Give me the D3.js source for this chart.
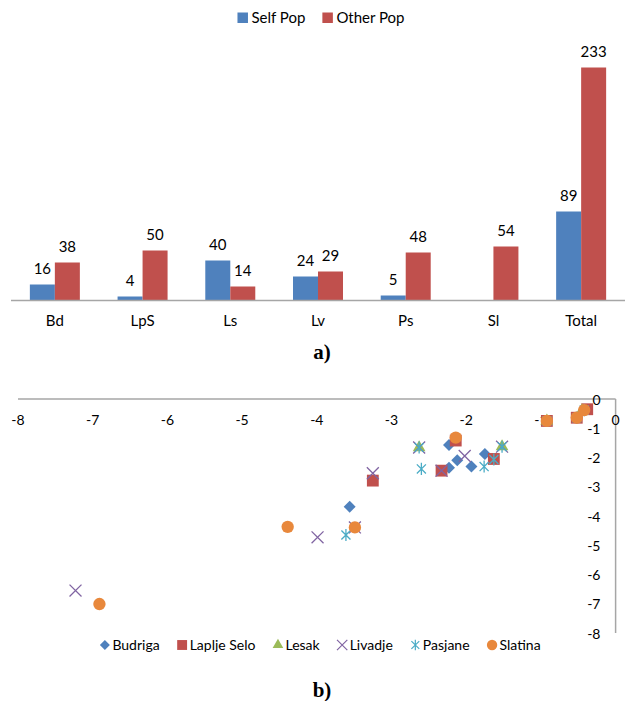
<!DOCTYPE html>
<html>
<head>
<meta charset="utf-8">
<script src="https://d3js.org/d3.v7.min.js"></script>
<style>
  body { margin: 0; background: #fff; }
  svg { display: block; }
  text { font-family: Lato, "Open Sans", sans-serif; fill: #000; }
</style>
</head>
<body>
<div id="chart"></div>
<script>
// ---- data: chart a) ----
var categories = ["Bd", "LpS", "Ls", "Lv", "Ps", "Sl", "Total"];
var seriesNames = ["Self Pop", "Other Pop"];
var selfPop = [16, 4, 40, 24, 5, null, 89];
var otherPop = [38, 50, 14, 29, 48, 54, 233];
var barColors = ["#4F81BD", "#C0504D"];

// ---- data: chart b) ----
var villages = ["Budriga", "Laplje Selo", "Lesak", "Livadje", "Pasjane", "Slatina"];
var budriga = [[-3.56, -3.68], [-2.23, -2.35], [-2.12, -2.09], [-2.23, -1.57], [-1.93, -2.31], [-1.75, -1.88], [-0.92, -0.75], [-0.52, -0.64], [-0.42, -0.38]];
var lapljeSelo = [[-3.25, -2.79], [-2.33, -2.45], [-2.14, -1.42], [-1.63, -2.05], [-0.92, -0.75], [-0.52, -0.64], [-0.38, -0.35]];
var lesak = [[-2.63, -1.66], [-1.52, -1.63], [-0.92, -0.75], [-0.45, -0.40]];
var livadje = [[-7.23, -6.55], [-3.99, -4.73], [-3.49, -4.39], [-3.25, -2.54], [-2.33, -2.45], [-2.02, -1.95], [-2.63, -1.66], [-1.52, -1.63]];
var pasjane = [[-3.61, -4.65], [-2.63, -1.66], [-2.60, -2.39], [-1.76, -2.31], [-1.63, -2.07], [-1.52, -1.63], [-0.92, -0.75], [-0.52, -0.64], [-0.42, -0.38]];
var slatina = [[-6.91, -7.01], [-4.39, -4.37], [-3.49, -4.39], [-2.14, -1.32], [-0.92, -0.75], [-0.52, -0.64], [-0.42, -0.38]];
var xTicks = [-8, -7, -6, -5, -4, -3, -2, -1, 0];
var yTicks = [0, -1, -2, -3, -4, -5, -6, -7, -8];
var pointColors = ["#4F81BD", "#C0504D", "#9BBB59", "#8064A2", "#4BACC6", "#E8883C"];

var W = 626, H = 701;
var svg = d3.select("#chart").append("svg")
    .attr("width", W)
    .attr("height", H);

// ================= chart a) =================
var x0 = d3.scaleBand()
    .domain(categories)
    .range([11, 625])
    .paddingInner(0.43)
    .paddingOuter(0.215);

var x1 = d3.scaleBand()
    .domain(seriesNames)
    .range([0, x0.bandwidth()]);

var yBar = d3.scaleLinear()
    .domain([0, 233])
    .range([300.5, 67.5]);

var barData = [];
categories.forEach(function(c, i) {
    barData.push({cat: c, s: 0, v: selfPop[i]});
    barData.push({cat: c, s: 1, v: otherPop[i]});
});
barData = barData.filter(function(d) { return d.v != null; });

var gA = svg.append("g");

gA.selectAll("rect.bar")
    .data(barData)
    .enter().append("rect")
    .attr("class", "bar")
    .attr("x", function(d) { return x0(d.cat) + x1(seriesNames[d.s]); })
    .attr("y", function(d) { return yBar(d.v); })
    .attr("width", x1.bandwidth())
    .attr("height", function(d) { return yBar(0) - yBar(d.v); })
    .attr("fill", function(d) { return barColors[d.s]; });

gA.selectAll("text.val")
    .data(barData)
    .enter().append("text")
    .attr("class", "val")
    .attr("x", function(d) { return x0(d.cat) + x1(seriesNames[d.s]) + x1.bandwidth() / 2; })
    .attr("y", function(d) { return yBar(d.v) - 10.5; })
    .attr("text-anchor", "middle")
    .style("font-size", "15px")
    .text(function(d) { return d.v; });

// baseline axis
var xAxisA = d3.axisBottom(x0).tickSize(0).tickPadding(15);
var axA = gA.append("g")
    .attr("transform", "translate(0," + yBar(0) + ")")
    .call(xAxisA);
axA.select(".domain").attr("stroke", "#A6A6A6").attr("stroke-width", 1.5)
    .attr("d", "M11,0H625");
axA.selectAll("text").style("font-size", "15px").attr("fill", "#000")
    .style("font-family", "Lato, 'Open Sans', sans-serif");

// top legend
var legA = svg.append("g");
var lx = 0;
seriesNames.forEach(function(n, i) {
    var item = legA.append("g").attr("transform", "translate(" + lx + ",0)");
    item.append("rect").attr("x", 0).attr("y", 12.5).attr("width", 10.5).attr("height", 10.5)
        .attr("fill", barColors[i]);
    var t = item.append("text").attr("x", 14).attr("y", 22.5)
        .style("font-size", "15px").text(n);
    lx += 14 + t.node().getComputedTextLength() + 17;
});
legA.attr("transform", "translate(" + (321 - (lx - 17) / 2) + ",0)");

svg.append("text")
    .attr("x", 322).attr("y", 359)
    .attr("text-anchor", "middle")
    .style("font-family", "'Liberation Serif', 'DejaVu Serif', serif")
    .style("font-weight", "bold")
    .style("font-size", "21px")
    .text("a)");

// ================= chart b) =================
var xs = d3.scaleLinear().domain([-8, 0]).range([18, 615.6]);
var ys = d3.scaleLinear().domain([0, -8]).range([399, 633]);

var gB = svg.append("g");

gB.append("line")
    .attr("x1", xs(-8)).attr("x2", xs(0))
    .attr("y1", ys(0)).attr("y2", ys(0))
    .attr("stroke", "#A6A6A6").attr("stroke-width", 1.5);
gB.append("line")
    .attr("x1", xs(0)).attr("x2", xs(0))
    .attr("y1", ys(0)).attr("y2", ys(-8))
    .attr("stroke", "#A6A6A6").attr("stroke-width", 1.5);

gB.selectAll("text.xt")
    .data(xTicks)
    .enter().append("text")
    .attr("class", "xt")
    .attr("x", function(d) { return xs(d); })
    .attr("y", 424.5)
    .attr("text-anchor", "middle")
    .style("font-size", "14px")
    .text(function(d) { return d === 0 ? "0" : "-" + Math.abs(d); });

gB.selectAll("text.yt")
    .data(yTicks)
    .enter().append("text")
    .attr("class", "yt")
    .attr("x", 600.5)
    .attr("y", function(d) { return ys(d) + 5.5; })
    .attr("text-anchor", "end")
    .style("font-size", "14px")
    .text(function(d) { return d === 0 ? "0" : "-" + Math.abs(d); });

// Excel style star: vertical bar plus an X
var symbolStar = {
    draw: function(context, size) {
        var r = Math.sqrt(size) * 0.62;
        var d = r * 0.75;
        context.moveTo(0, -r); context.lineTo(0, r);
        context.moveTo(-d, -d); context.lineTo(d, d);
        context.moveTo(-d, d); context.lineTo(d, -d);
    }
};

var symbolDefs = [
    {type: d3.symbolSquare, size: 72, rotate: 45, fill: true},
    {type: d3.symbolSquare, size: 140, rotate: 0, fill: true},
    {type: d3.symbolTriangle, size: 70, rotate: 0, fill: true},
    {type: d3.symbolX, size: 95, rotate: 0, fill: false},
    {type: symbolStar, size: 95, rotate: 0, fill: false},
    {type: d3.symbolCircle, size: 120, rotate: 0, fill: true}
];

var allSeries = [budriga, lapljeSelo, lesak, livadje, pasjane, slatina];

allSeries.forEach(function(pts, i) {
    var sd = symbolDefs[i];
    var sym = d3.symbol().type(sd.type).size(sd.size);
    gB.append("g").selectAll("path")
        .data(pts)
        .enter().append("path")
        .attr("d", sym)
        .attr("transform", function(d) {
            return "translate(" + xs(d[0]) + "," + ys(d[1]) + ") rotate(" + sd.rotate + ")";
        })
        .attr("fill", sd.fill ? pointColors[i] : "none")
        .attr("stroke", sd.fill ? "none" : pointColors[i])
        .attr("stroke-width", sd.fill ? 0 : 1.3);
});

// bottom legend
var legB = svg.append("g");
var bx = 0;
villages.forEach(function(n, i) {
    var sd = symbolDefs[i];
    var item = legB.append("g").attr("transform", "translate(" + bx + ",0)");
    var sz = sd.fill ? sd.size * 0.7 : sd.size * 0.75;
    item.append("path")
        .attr("d", d3.symbol().type(sd.type).size(sz)())
        .attr("transform", "translate(5.5,645) rotate(" + sd.rotate + ")")
        .attr("fill", sd.fill ? pointColors[i] : "none")
        .attr("stroke", sd.fill ? "none" : pointColors[i])
        .attr("stroke-width", sd.fill ? 0 : 1.2);
    var t = item.append("text").attr("x", 13).attr("y", 650)
        .style("font-size", "14px").text(n);
    bx += 13 + t.node().getComputedTextLength() + 17;
});
legB.attr("transform", "translate(" + (320 - (bx - 17) / 2) + ",0)");

svg.append("text")
    .attr("x", 322).attr("y", 697)
    .attr("text-anchor", "middle")
    .style("font-family", "'Liberation Serif', 'DejaVu Serif', serif")
    .style("font-weight", "bold")
    .style("font-size", "21px")
    .text("b)");
</script>
</body>
</html>
